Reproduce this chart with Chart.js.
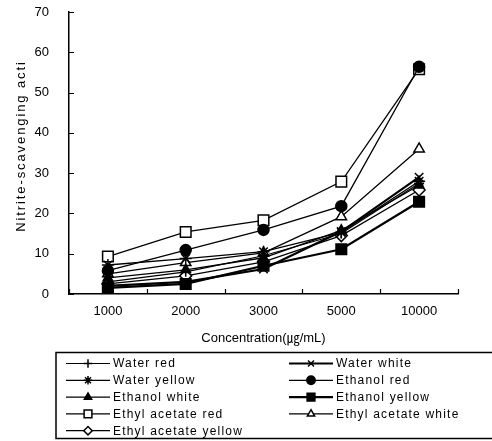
<!DOCTYPE html>
<html lang="en">
<head>
    <meta charset="UTF-8">
    <title>Nitrite-scavenging activity</title>
    <script src="https://cdn.jsdelivr.net/npm/chart.js"></script>
    <style>
        body { margin: 0; background: #fff; }
        #wrap { width: 492px; height: 441px; }
    </style>
</head>
<body>
    <div id="wrap"><canvas id="myChart" width="492" height="441"></canvas></div>
    <script>
        const concentrations = ['1000', '2000', '3000', '5000', '10000'];
        const yTicks = [0, 10, 20, 30, 40, 50, 60, 70];

        const waterRed = [3.0, 5.5, 9.5, 15.0, 27.5];
        const waterWhite = [2.0, 3.0, 6.2, 15.5, 29.0];
        const waterYellow = [7.2, 8.8, 10.5, 15.3, 28.0];
        const ethanolRed = [5.8, 10.9, 15.9, 21.8, 56.4];
        const ethanolWhite = [4.0, 6.0, 9.0, 15.8, 27.0];
        const ethanolYellow = [1.5, 2.5, 7.0, 11.1, 22.9];
        const ethylRed = [9.3, 15.4, 18.3, 27.9, 55.8];
        const ethylWhite = [5.0, 7.8, 10.2, 19.2, 36.0];
        const ethylYellow = [2.5, 4.5, 8.0, 14.5, 25.8];

        const yTitle = 'Nitrite-scavenging acti';
        const FONT = '"Liberation Sans", Arial, "Noto Sans CJK KR", sans-serif';

        function series(label, data, style, filled, radius, width) {
            return {
                label: label,
                data: data,
                borderColor: '#000',
                borderWidth: width,
                pointStyle: style,
                pointRadius: radius,
                pointHoverRadius: radius,
                pointBorderColor: '#000',
                pointBorderWidth: 1.5,
                pointBackgroundColor: filled ? '#000' : '#fff',
                fill: false,
                tension: 0
            };
        }

        // inward tick marks + spaced-out y title like the original plot
        const innerTicks = {
            id: 'innerTicks',
            afterDraw(chart) {
                const ctx = chart.ctx;
                const area = chart.chartArea;
                const x = chart.scales.x, y = chart.scales.y;
                ctx.save();
                ctx.strokeStyle = '#000';
                ctx.lineWidth = 1.2;
                ctx.beginPath();
                yTicks.forEach(v => {
                    const py = Math.round(y.getPixelForValue(v)) + 0.5;
                    ctx.moveTo(area.left, py);
                    ctx.lineTo(area.left + 5, py);
                });
                for (let i = 0; i <= concentrations.length; i++) {
                    const px = Math.round(x.getPixelForValue(i - 0.5)) + 0.5;
                    ctx.moveTo(px, area.bottom);
                    ctx.lineTo(px, area.bottom - 5);
                }
                ctx.stroke();

                ctx.translate(21, 146);
                ctx.rotate(-Math.PI / 2);
                ctx.font = '13px ' + FONT;
                ctx.letterSpacing = '1.9px';
                ctx.textAlign = 'center';
                ctx.textBaseline = 'middle';
                ctx.fillStyle = '#000';
                ctx.fillText(yTitle, 0, 0);
                ctx.restore();
            }
        };

        // boxed two-column legend under the axis title
        const boxLegend = {
            id: 'boxLegend',
            afterDraw(chart) {
                const ctx = chart.ctx;
                ctx.save();
                ctx.strokeStyle = '#000';
                ctx.lineWidth = 1.5;
                ctx.strokeRect(56, 352.5, 450, 86);
                ctx.font = '12px ' + FONT;
                ctx.letterSpacing = '1.2px';
                ctx.textBaseline = 'middle';
                ctx.fillStyle = '#000';
                chart.data.datasets.forEach((ds, i) => {
                    const col = i % 2;
                    const row = Math.floor(i / 2);
                    const x0 = col ? 289 : 66;
                    const yy = 363.5 + row * 16.8;
                    ctx.beginPath();
                    ctx.lineWidth = Math.max(ds.borderWidth, 1.2);
                    ctx.moveTo(x0, yy);
                    ctx.lineTo(x0 + 44, yy);
                    ctx.stroke();
                    ctx.fillStyle = ds.pointBackgroundColor;
                    ctx.lineWidth = 1.5;
                    Chart.helpers.drawPoint(ctx, {
                        pointStyle: ds.pointStyle,
                        radius: ds.pointStyle === 'rect' ? 5.5 : 4.2,
                        rotation: 0,
                        borderWidth: 1.5
                    }, x0 + 22, yy);
                    ctx.fillStyle = '#000';
                    ctx.fillText(ds.label, x0 + 47, yy + 0.5);
                });
                ctx.restore();
            }
        };

        const ctx = document.getElementById('myChart').getContext('2d');
        new Chart(ctx, {
            type: 'line',
            data: {
                labels: concentrations,
                datasets: [
                    series('Water red', waterRed, 'cross', false, 5, 1.2),
                    series('Water white', waterWhite, 'crossRot', false, 6, 2.2),
                    series('Water yellow', waterYellow, 'star', false, 6, 1.3),
                    series('Ethanol red', ethanolRed, 'circle', true, 5.5, 1.3),
                    series('Ethanol white', ethanolWhite, 'triangle', true, 5.5, 1.3),
                    series('Ethanol yellow', ethanolYellow, 'rect', true, 7.5, 2.2),
                    series('Ethyl acetate red', ethylRed, 'rect', false, 7.5, 1.3),
                    series('Ethyl acetate white', ethylWhite, 'triangle', false, 6, 1.3),
                    series('Ethyl acetate yellow', ethylYellow, 'rectRot', false, 6, 1.3)
                ]
            },
            options: {
                responsive: false,
                animation: false,
                layout: { autoPadding: false, padding: { top: 12, right: 34, bottom: 91, left: 0 } },
                plugins: {
                    legend: { display: false },
                    tooltip: { enabled: false }
                },
                scales: {
                    x: {
                        offset: true,
                        grid: { display: true, drawOnChartArea: false, drawTicks: false, color: '#000', offset: true },
                        border: { display: true, color: '#000', width: 1.5 },
                        ticks: { color: '#000', padding: 10, font: { family: FONT, size: 13 } },
                        title: {
                            display: true,
                            text: 'Concentration(㎍/mL)',
                            color: '#000',
                            padding: 4,
                            font: { family: FONT, size: 13 }
                        },
                        afterFit(scale) { scale.height = 56; scale.paddingLeft = 0; scale.paddingRight = 0; }
                    },
                    y: {
                        min: 0,
                        max: 70,
                        grid: { display: true, drawOnChartArea: false, drawTicks: false, color: '#000' },
                        border: { display: true, color: '#000', width: 1.5 },
                        ticks: {
                            stepSize: 10,
                            color: '#000',
                            padding: 20,
                            font: { family: FONT, size: 13 },
                            callback: function(value) {
                                return yTicks.includes(value) ? String(value) : '';
                            }
                        },
                        title: { display: false },
                        afterFit(scale) { scale.width = 69; scale.paddingTop = 0; scale.paddingBottom = 0; }
                    }
                }
            },
            plugins: [innerTicks, boxLegend]
        });
    </script>
</body>
</html>
